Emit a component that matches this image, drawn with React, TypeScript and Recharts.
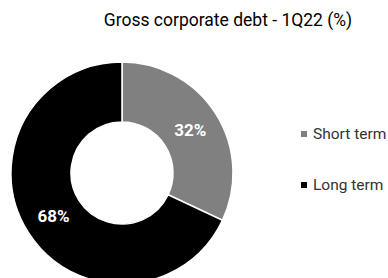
import { PieChart, Pie, Cell } from 'recharts';

const categories = ['Short term', 'Long term'];
const shares = [32, 68];
const colors = ['#808080', '#000000'];

const data = categories.map((name, i) => ({ name, value: shares[i] }));

const RADIAN = Math.PI / 180;

function renderLabel(props: any) {
  const { cx, cy, midAngle, innerRadius, outerRadius, value } = props;
  const r = (innerRadius + outerRadius) / 2;
  const x = cx + r * Math.cos(-midAngle * RADIAN);
  const y = cy + r * Math.sin(-midAngle * RADIAN);
  return (
    <text
      x={x}
      y={y}
      fill="#ffffff"
      textAnchor="middle"
      dominantBaseline="central"
      fontSize={17}
      fontWeight={700}
      fontFamily="Roboto, sans-serif"
    >
      {`${value}%`}
    </text>
  );
}

export default function App() {
  return (
    <div style={{ position: 'absolute', left: 0, top: 0, width: 388, height: 278, background: '#fff', overflow: 'hidden' }}>
      <div
        style={{
          position: 'absolute',
          left: 0,
          top: 10,
          width: 456,
          textAlign: 'center',
          fontFamily: 'Roboto, sans-serif',
          fontSize: 17.5,
          color: '#000',
          whiteSpace: 'nowrap',
        }}
      >
        Gross corporate debt - 1Q22 (%)
      </div>
      <PieChart width={388} height={278} margin={{ top: 0, right: 0, bottom: 0, left: 0 }}>
        <Pie
          data={data}
          dataKey="value"
          nameKey="name"
          cx={122}
          cy={173}
          innerRadius={51}
          outerRadius={111}
          startAngle={90}
          endAngle={-270}
          stroke="#ffffff"
          strokeWidth={1.5}
          label={renderLabel}
          labelLine={false}
          isAnimationActive={false}
        >
          {data.map((d, i) => (
            <Cell key={d.name} fill={colors[i]} />
          ))}
        </Pie>
      </PieChart>
      <div
        style={{
          position: 'absolute',
          left: 301,
          top: 124,
          fontFamily: 'Roboto, sans-serif',
          fontSize: 15.5,
          color: '#333',
          whiteSpace: 'nowrap',
        }}
      >
        {data.map((d, i) => (
          <div
            key={d.name}
            style={{ display: 'flex', alignItems: 'center', height: 20, marginBottom: i === 0 ? 31 : 0 }}
          >
            <span
              style={{ width: 6, height: 6, background: colors[i], display: 'inline-block', marginRight: 6 }}
            />
            {d.name}
          </div>
        ))}
      </div>
    </div>
  );
}
